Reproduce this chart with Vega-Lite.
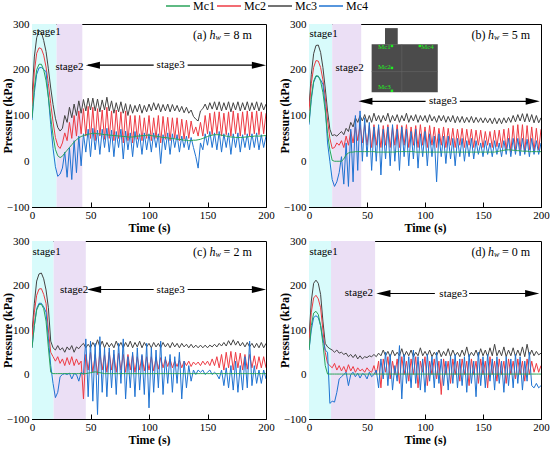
{
  "$schema": "https://vega.github.io/schema/vega-lite/v6.json",
  "padding": {"left": 0, "top": 0, "right": 0, "bottom": 0},
  "config": {
    "view": {"stroke": "black", "strokeWidth": 1},
    "font": "Liberation Serif, Times New Roman, serif",
    "axis": {
      "labelFont": "Liberation Serif, Times New Roman, serif", "labelFontSize": 11, "labelColor": "black",
      "titleFont": "Liberation Serif, Times New Roman, serif", "titleFontSize": 12, "titleFontWeight": "bold", "titleColor": "black",
      "domainColor": "black", "tickColor": "black", "grid": false, "labelFlush": false,
      "labelPadding": 8, "labelOverlap": false
    },
    "axisX": {"labelPadding": 7, "titlePadding": 2},
    "text": {"font": "Liberation Serif, Times New Roman, serif", "color": "black"}
  },
  "datasets": {
    "a": [
      {"t":0,"Mc1":95,"Mc2":120,"Mc3":140,"Mc4":90},
      {"t":2,"Mc1":160,"Mc2":195,"Mc3":228,"Mc4":150},
      {"t":4,"Mc1":200,"Mc2":236,"Mc3":270,"Mc4":190},
      {"t":6,"Mc1":212,"Mc2":248,"Mc3":285,"Mc4":204},
      {"t":8,"Mc1":212,"Mc2":246,"Mc3":282,"Mc4":205},
      {"t":10,"Mc1":200,"Mc2":232,"Mc3":264,"Mc4":200},
      {"t":12,"Mc1":176,"Mc2":206,"Mc3":240,"Mc4":196},
      {"t":14,"Mc1":140,"Mc2":170,"Mc3":202,"Mc4":140},
      {"t":16,"Mc1":96,"Mc2":126,"Mc3":160,"Mc4":80},
      {"t":18,"Mc1":56,"Mc2":86,"Mc3":124,"Mc4":28},
      {"t":20,"Mc1":26,"Mc2":52,"Mc3":94,"Mc4":-12},
      {"t":22,"Mc1":12,"Mc2":34,"Mc3":74,"Mc4":-33},
      {"t":24,"Mc1":8,"Mc2":28,"Mc3":66,"Mc4":-28},
      {"t":26,"Mc1":11,"Mc2":40,"Mc3":72,"Mc4":-15},
      {"t":28,"Mc1":18,"Mc2":62,"Mc3":100,"Mc4":20},
      {"t":30,"Mc1":24,"Mc2":45,"Mc3":85,"Mc4":-35},
      {"t":32,"Mc1":30,"Mc2":85,"Mc3":118,"Mc4":30},
      {"t":34,"Mc1":36,"Mc2":50,"Mc3":95,"Mc4":-40},
      {"t":36,"Mc1":42,"Mc2":100,"Mc3":125,"Mc4":45},
      {"t":38,"Mc1":47,"Mc2":55,"Mc3":100,"Mc4":-25},
      {"t":40,"Mc1":51,"Mc2":110,"Mc3":132,"Mc4":55},
      {"t":42,"Mc1":54,"Mc2":60,"Mc3":105,"Mc4":-10},
      {"t":44,"Mc1":56,"Mc2":115,"Mc3":135,"Mc4":60},
      {"t":46,"Mc1":58,"Mc2":55,"Mc3":110,"Mc4":20},
      {"t":48,"Mc1":59,"Mc2":120,"Mc3":138,"Mc4":70},
      {"t":50,"Mc1":60,"Mc2":50,"Mc3":112,"Mc4":10},
      {"t":52,"Mc1":61,"Mc2":118,"Mc3":138,"Mc4":72},
      {"t":54,"Mc1":61,"Mc2":45,"Mc3":110,"Mc4":25},
      {"t":56,"Mc1":60,"Mc2":115,"Mc3":136,"Mc4":68},
      {"t":58,"Mc1":60,"Mc2":55,"Mc3":108,"Mc4":15},
      {"t":60,"Mc1":59,"Mc2":112,"Mc3":134,"Mc4":70},
      {"t":62,"Mc1":58,"Mc2":48,"Mc3":112,"Mc4":30},
      {"t":64,"Mc1":58,"Mc2":118,"Mc3":140,"Mc4":72},
      {"t":66,"Mc1":57,"Mc2":50,"Mc3":110,"Mc4":20},
      {"t":68,"Mc1":57,"Mc2":110,"Mc3":132,"Mc4":68},
      {"t":70,"Mc1":56,"Mc2":45,"Mc3":105,"Mc4":10},
      {"t":72,"Mc1":56,"Mc2":112,"Mc3":128,"Mc4":65},
      {"t":74,"Mc1":55,"Mc2":50,"Mc3":108,"Mc4":30},
      {"t":76,"Mc1":55,"Mc2":108,"Mc3":130,"Mc4":70},
      {"t":78,"Mc1":54,"Mc2":40,"Mc3":105,"Mc4":5},
      {"t":80,"Mc1":54,"Mc2":110,"Mc3":126,"Mc4":66},
      {"t":82,"Mc1":53,"Mc2":45,"Mc3":100,"Mc4":25},
      {"t":84,"Mc1":53,"Mc2":100,"Mc3":124,"Mc4":62},
      {"t":86,"Mc1":53,"Mc2":40,"Mc3":105,"Mc4":10},
      {"t":88,"Mc1":54,"Mc2":100,"Mc3":122,"Mc4":65},
      {"t":90,"Mc1":55,"Mc2":48,"Mc3":108,"Mc4":30},
      {"t":92,"Mc1":55,"Mc2":100,"Mc3":125,"Mc4":60},
      {"t":94,"Mc1":56,"Mc2":45,"Mc3":105,"Mc4":15},
      {"t":96,"Mc1":56,"Mc2":95,"Mc3":122,"Mc4":62},
      {"t":98,"Mc1":57,"Mc2":50,"Mc3":108,"Mc4":25},
      {"t":100,"Mc1":57,"Mc2":100,"Mc3":125,"Mc4":60},
      {"t":102,"Mc1":56,"Mc2":45,"Mc3":110,"Mc4":20},
      {"t":104,"Mc1":55,"Mc2":95,"Mc3":128,"Mc4":62},
      {"t":106,"Mc1":55,"Mc2":50,"Mc3":112,"Mc4":30},
      {"t":108,"Mc1":54,"Mc2":100,"Mc3":126,"Mc4":60},
      {"t":110,"Mc1":53,"Mc2":40,"Mc3":108,"Mc4":-5},
      {"t":112,"Mc1":52,"Mc2":98,"Mc3":124,"Mc4":58},
      {"t":114,"Mc1":52,"Mc2":48,"Mc3":110,"Mc4":25},
      {"t":116,"Mc1":51,"Mc2":96,"Mc3":125,"Mc4":62},
      {"t":118,"Mc1":50,"Mc2":45,"Mc3":108,"Mc4":15},
      {"t":120,"Mc1":50,"Mc2":95,"Mc3":124,"Mc4":60},
      {"t":122,"Mc1":49,"Mc2":50,"Mc3":110,"Mc4":30},
      {"t":124,"Mc1":48,"Mc2":95,"Mc3":122,"Mc4":58},
      {"t":126,"Mc1":48,"Mc2":45,"Mc3":108,"Mc4":20},
      {"t":128,"Mc1":47,"Mc2":92,"Mc3":120,"Mc4":55},
      {"t":130,"Mc1":46,"Mc2":48,"Mc3":106,"Mc4":30},
      {"t":132,"Mc1":46,"Mc2":90,"Mc3":118,"Mc4":55},
      {"t":134,"Mc1":45,"Mc2":50,"Mc3":105,"Mc4":25},
      {"t":136,"Mc1":45,"Mc2":88,"Mc3":112,"Mc4":52},
      {"t":138,"Mc1":46,"Mc2":60,"Mc3":98,"Mc4":30},
      {"t":140,"Mc1":46,"Mc2":75,"Mc3":92,"Mc4":10},
      {"t":142,"Mc1":47,"Mc2":55,"Mc3":88,"Mc4":-15},
      {"t":144,"Mc1":48,"Mc2":85,"Mc3":110,"Mc4":40},
      {"t":146,"Mc1":50,"Mc2":55,"Mc3":115,"Mc4":25},
      {"t":148,"Mc1":52,"Mc2":100,"Mc3":125,"Mc4":60},
      {"t":150,"Mc1":54,"Mc2":60,"Mc3":112,"Mc4":35},
      {"t":152,"Mc1":56,"Mc2":105,"Mc3":128,"Mc4":65},
      {"t":154,"Mc1":57,"Mc2":58,"Mc3":114,"Mc4":30},
      {"t":156,"Mc1":58,"Mc2":108,"Mc3":130,"Mc4":62},
      {"t":158,"Mc1":58,"Mc2":60,"Mc3":112,"Mc4":25},
      {"t":160,"Mc1":58,"Mc2":108,"Mc3":130,"Mc4":65},
      {"t":162,"Mc1":57,"Mc2":55,"Mc3":110,"Mc4":20},
      {"t":164,"Mc1":56,"Mc2":105,"Mc3":128,"Mc4":60},
      {"t":166,"Mc1":55,"Mc2":58,"Mc3":112,"Mc4":30},
      {"t":168,"Mc1":54,"Mc2":108,"Mc3":130,"Mc4":62},
      {"t":170,"Mc1":53,"Mc2":55,"Mc3":108,"Mc4":15},
      {"t":172,"Mc1":53,"Mc2":110,"Mc3":128,"Mc4":60},
      {"t":174,"Mc1":52,"Mc2":60,"Mc3":112,"Mc4":30},
      {"t":176,"Mc1":52,"Mc2":105,"Mc3":130,"Mc4":62},
      {"t":178,"Mc1":52,"Mc2":55,"Mc3":110,"Mc4":20},
      {"t":180,"Mc1":52,"Mc2":108,"Mc3":128,"Mc4":58},
      {"t":182,"Mc1":53,"Mc2":58,"Mc3":112,"Mc4":30},
      {"t":184,"Mc1":53,"Mc2":110,"Mc3":130,"Mc4":60},
      {"t":186,"Mc1":54,"Mc2":55,"Mc3":110,"Mc4":25},
      {"t":188,"Mc1":54,"Mc2":108,"Mc3":128,"Mc4":60},
      {"t":190,"Mc1":55,"Mc2":60,"Mc3":112,"Mc4":30},
      {"t":192,"Mc1":55,"Mc2":110,"Mc3":130,"Mc4":62},
      {"t":194,"Mc1":55,"Mc2":58,"Mc3":110,"Mc4":25},
      {"t":196,"Mc1":55,"Mc2":108,"Mc3":128,"Mc4":58},
      {"t":198,"Mc1":56,"Mc2":60,"Mc3":112,"Mc4":30},
      {"t":200,"Mc1":56,"Mc2":105,"Mc3":125,"Mc4":55}
    ],
    "b": [
      {"t":0,"Mc1":85,"Mc2":110,"Mc3":120,"Mc4":80},
      {"t":2,"Mc1":140,"Mc2":170,"Mc3":190,"Mc4":135},
      {"t":4,"Mc1":175,"Mc2":205,"Mc3":235,"Mc4":172},
      {"t":6,"Mc1":187,"Mc2":220,"Mc3":253,"Mc4":185},
      {"t":8,"Mc1":186,"Mc2":219,"Mc3":254,"Mc4":186},
      {"t":10,"Mc1":175,"Mc2":205,"Mc3":238,"Mc4":178},
      {"t":12,"Mc1":150,"Mc2":178,"Mc3":205,"Mc4":168},
      {"t":14,"Mc1":110,"Mc2":140,"Mc3":160,"Mc4":120},
      {"t":16,"Mc1":60,"Mc2":90,"Mc3":110,"Mc4":40},
      {"t":18,"Mc1":25,"Mc2":50,"Mc3":70,"Mc4":0},
      {"t":20,"Mc1":2,"Mc2":28,"Mc3":56,"Mc4":-40},
      {"t":22,"Mc1":0,"Mc2":30,"Mc3":58,"Mc4":-55},
      {"t":24,"Mc1":0,"Mc2":40,"Mc3":55,"Mc4":-45},
      {"t":26,"Mc1":0,"Mc2":35,"Mc3":60,"Mc4":-25},
      {"t":28,"Mc1":0,"Mc2":45,"Mc3":65,"Mc4":10},
      {"t":30,"Mc1":5,"Mc2":30,"Mc3":58,"Mc4":-50},
      {"t":32,"Mc1":14,"Mc2":55,"Mc3":72,"Mc4":40},
      {"t":34,"Mc1":18,"Mc2":35,"Mc3":65,"Mc4":-55},
      {"t":36,"Mc1":20,"Mc2":65,"Mc3":85,"Mc4":70},
      {"t":38,"Mc1":20,"Mc2":40,"Mc3":75,"Mc4":-45},
      {"t":40,"Mc1":21,"Mc2":75,"Mc3":95,"Mc4":100},
      {"t":42,"Mc1":21,"Mc2":45,"Mc3":85,"Mc4":-20},
      {"t":44,"Mc1":21,"Mc2":80,"Mc3":100,"Mc4":110},
      {"t":46,"Mc1":21,"Mc2":40,"Mc3":88,"Mc4":0},
      {"t":48,"Mc1":21,"Mc2":80,"Mc3":102,"Mc4":95},
      {"t":50,"Mc1":21,"Mc2":35,"Mc3":85,"Mc4":10},
      {"t":52,"Mc1":21,"Mc2":78,"Mc3":100,"Mc4":85},
      {"t":54,"Mc1":21,"Mc2":30,"Mc3":85,"Mc4":-20},
      {"t":56,"Mc1":21,"Mc2":80,"Mc3":105,"Mc4":75},
      {"t":58,"Mc1":20,"Mc2":35,"Mc3":88,"Mc4":0},
      {"t":60,"Mc1":20,"Mc2":75,"Mc3":100,"Mc4":80},
      {"t":62,"Mc1":20,"Mc2":30,"Mc3":85,"Mc4":-30},
      {"t":64,"Mc1":20,"Mc2":78,"Mc3":100,"Mc4":70},
      {"t":66,"Mc1":20,"Mc2":35,"Mc3":88,"Mc4":5},
      {"t":68,"Mc1":20,"Mc2":80,"Mc3":105,"Mc4":75},
      {"t":70,"Mc1":20,"Mc2":30,"Mc3":85,"Mc4":-10},
      {"t":72,"Mc1":20,"Mc2":75,"Mc3":100,"Mc4":80},
      {"t":74,"Mc1":20,"Mc2":35,"Mc3":88,"Mc4":0},
      {"t":76,"Mc1":21,"Mc2":80,"Mc3":102,"Mc4":70},
      {"t":78,"Mc1":21,"Mc2":30,"Mc3":85,"Mc4":-20},
      {"t":80,"Mc1":21,"Mc2":78,"Mc3":100,"Mc4":75},
      {"t":82,"Mc1":21,"Mc2":35,"Mc3":88,"Mc4":10},
      {"t":84,"Mc1":21,"Mc2":80,"Mc3":105,"Mc4":70},
      {"t":86,"Mc1":21,"Mc2":30,"Mc3":85,"Mc4":-10},
      {"t":88,"Mc1":21,"Mc2":75,"Mc3":100,"Mc4":65},
      {"t":90,"Mc1":21,"Mc2":35,"Mc3":88,"Mc4":5},
      {"t":92,"Mc1":20,"Mc2":78,"Mc3":102,"Mc4":70},
      {"t":94,"Mc1":20,"Mc2":30,"Mc3":85,"Mc4":-15},
      {"t":96,"Mc1":20,"Mc2":80,"Mc3":100,"Mc4":60},
      {"t":98,"Mc1":20,"Mc2":35,"Mc3":88,"Mc4":10},
      {"t":100,"Mc1":20,"Mc2":75,"Mc3":100,"Mc4":65},
      {"t":102,"Mc1":20,"Mc2":30,"Mc3":85,"Mc4":-10},
      {"t":104,"Mc1":20,"Mc2":78,"Mc3":102,"Mc4":60},
      {"t":106,"Mc1":20,"Mc2":35,"Mc3":88,"Mc4":10},
      {"t":108,"Mc1":20,"Mc2":75,"Mc3":98,"Mc4":55},
      {"t":110,"Mc1":20,"Mc2":30,"Mc3":85,"Mc4":-45},
      {"t":112,"Mc1":20,"Mc2":72,"Mc3":100,"Mc4":60},
      {"t":114,"Mc1":20,"Mc2":35,"Mc3":88,"Mc4":10},
      {"t":116,"Mc1":20,"Mc2":75,"Mc3":100,"Mc4":55},
      {"t":118,"Mc1":20,"Mc2":30,"Mc3":85,"Mc4":-5},
      {"t":120,"Mc1":20,"Mc2":72,"Mc3":98,"Mc4":55},
      {"t":122,"Mc1":20,"Mc2":35,"Mc3":86,"Mc4":5},
      {"t":124,"Mc1":20,"Mc2":72,"Mc3":100,"Mc4":50},
      {"t":126,"Mc1":20,"Mc2":30,"Mc3":84,"Mc4":-10},
      {"t":128,"Mc1":20,"Mc2":70,"Mc3":98,"Mc4":50},
      {"t":130,"Mc1":20,"Mc2":35,"Mc3":85,"Mc4":10},
      {"t":132,"Mc1":20,"Mc2":72,"Mc3":98,"Mc4":50},
      {"t":134,"Mc1":20,"Mc2":30,"Mc3":84,"Mc4":0},
      {"t":136,"Mc1":20,"Mc2":70,"Mc3":96,"Mc4":45},
      {"t":138,"Mc1":20,"Mc2":35,"Mc3":85,"Mc4":10},
      {"t":140,"Mc1":20,"Mc2":70,"Mc3":98,"Mc4":50},
      {"t":142,"Mc1":20,"Mc2":30,"Mc3":84,"Mc4":5},
      {"t":144,"Mc1":20,"Mc2":68,"Mc3":96,"Mc4":45},
      {"t":146,"Mc1":20,"Mc2":35,"Mc3":85,"Mc4":15},
      {"t":148,"Mc1":20,"Mc2":68,"Mc3":95,"Mc4":40},
      {"t":150,"Mc1":20,"Mc2":30,"Mc3":84,"Mc4":10},
      {"t":152,"Mc1":20,"Mc2":65,"Mc3":95,"Mc4":45},
      {"t":154,"Mc1":20,"Mc2":35,"Mc3":84,"Mc4":15},
      {"t":156,"Mc1":20,"Mc2":65,"Mc3":94,"Mc4":40},
      {"t":158,"Mc1":20,"Mc2":30,"Mc3":82,"Mc4":10},
      {"t":160,"Mc1":20,"Mc2":68,"Mc3":95,"Mc4":45},
      {"t":162,"Mc1":21,"Mc2":32,"Mc3":82,"Mc4":15},
      {"t":164,"Mc1":22,"Mc2":68,"Mc3":94,"Mc4":40},
      {"t":166,"Mc1":23,"Mc2":30,"Mc3":82,"Mc4":10},
      {"t":168,"Mc1":24,"Mc2":70,"Mc3":95,"Mc4":45},
      {"t":170,"Mc1":25,"Mc2":25,"Mc3":84,"Mc4":15},
      {"t":172,"Mc1":25,"Mc2":72,"Mc3":96,"Mc4":50},
      {"t":174,"Mc1":25,"Mc2":20,"Mc3":85,"Mc4":10},
      {"t":176,"Mc1":24,"Mc2":78,"Mc3":100,"Mc4":50},
      {"t":178,"Mc1":24,"Mc2":22,"Mc3":86,"Mc4":15},
      {"t":180,"Mc1":23,"Mc2":80,"Mc3":102,"Mc4":50},
      {"t":182,"Mc1":23,"Mc2":25,"Mc3":88,"Mc4":12},
      {"t":184,"Mc1":22,"Mc2":80,"Mc3":104,"Mc4":50},
      {"t":186,"Mc1":22,"Mc2":20,"Mc3":86,"Mc4":15},
      {"t":188,"Mc1":22,"Mc2":78,"Mc3":104,"Mc4":48},
      {"t":190,"Mc1":21,"Mc2":25,"Mc3":86,"Mc4":10},
      {"t":192,"Mc1":21,"Mc2":75,"Mc3":102,"Mc4":50},
      {"t":194,"Mc1":21,"Mc2":22,"Mc3":84,"Mc4":15},
      {"t":196,"Mc1":21,"Mc2":72,"Mc3":100,"Mc4":45},
      {"t":198,"Mc1":21,"Mc2":25,"Mc3":84,"Mc4":15},
      {"t":200,"Mc1":21,"Mc2":70,"Mc3":95,"Mc4":40}
    ],
    "c": [
      {"t":0,"Mc1":60,"Mc2":80,"Mc3":95,"Mc4":60},
      {"t":2,"Mc1":110,"Mc2":140,"Mc3":160,"Mc4":110},
      {"t":4,"Mc1":145,"Mc2":178,"Mc3":210,"Mc4":148},
      {"t":6,"Mc1":157,"Mc2":192,"Mc3":226,"Mc4":160},
      {"t":8,"Mc1":158,"Mc2":193,"Mc3":228,"Mc4":160},
      {"t":10,"Mc1":148,"Mc2":180,"Mc3":215,"Mc4":152},
      {"t":12,"Mc1":120,"Mc2":160,"Mc3":190,"Mc4":140},
      {"t":14,"Mc1":60,"Mc2":100,"Mc3":150,"Mc4":80},
      {"t":16,"Mc1":5,"Mc2":50,"Mc3":75,"Mc4":20},
      {"t":18,"Mc1":2,"Mc2":40,"Mc3":60,"Mc4":-20},
      {"t":20,"Mc1":2,"Mc2":30,"Mc3":55,"Mc4":-52},
      {"t":22,"Mc1":2,"Mc2":40,"Mc3":65,"Mc4":-40},
      {"t":24,"Mc1":2,"Mc2":25,"Mc3":55,"Mc4":-5},
      {"t":26,"Mc1":2,"Mc2":35,"Mc3":60,"Mc4":0},
      {"t":28,"Mc1":2,"Mc2":20,"Mc3":50,"Mc4":2},
      {"t":30,"Mc1":2,"Mc2":38,"Mc3":62,"Mc4":0},
      {"t":32,"Mc1":2,"Mc2":22,"Mc3":55,"Mc4":3},
      {"t":34,"Mc1":2,"Mc2":40,"Mc3":65,"Mc4":-10},
      {"t":36,"Mc1":2,"Mc2":20,"Mc3":50,"Mc4":2},
      {"t":38,"Mc1":2,"Mc2":35,"Mc3":62,"Mc4":0},
      {"t":40,"Mc1":2,"Mc2":22,"Mc3":58,"Mc4":-15},
      {"t":42,"Mc1":2,"Mc2":30,"Mc3":65,"Mc4":5},
      {"t":44,"Mc1":2,"Mc2":-55,"Mc3":70,"Mc4":0},
      {"t":46,"Mc1":2,"Mc2":45,"Mc3":60,"Mc4":80},
      {"t":48,"Mc1":3,"Mc2":10,"Mc3":68,"Mc4":-50},
      {"t":50,"Mc1":4,"Mc2":50,"Mc3":60,"Mc4":75},
      {"t":52,"Mc1":5,"Mc2":5,"Mc3":72,"Mc4":-60},
      {"t":54,"Mc1":6,"Mc2":45,"Mc3":62,"Mc4":70},
      {"t":56,"Mc1":5,"Mc2":0,"Mc3":78,"Mc4":-90},
      {"t":58,"Mc1":4,"Mc2":50,"Mc3":62,"Mc4":85},
      {"t":60,"Mc1":3,"Mc2":10,"Mc3":75,"Mc4":-40},
      {"t":62,"Mc1":2,"Mc2":45,"Mc3":60,"Mc4":60},
      {"t":64,"Mc1":2,"Mc2":5,"Mc3":72,"Mc4":-50},
      {"t":66,"Mc1":2,"Mc2":50,"Mc3":62,"Mc4":60},
      {"t":68,"Mc1":2,"Mc2":10,"Mc3":70,"Mc4":-30},
      {"t":70,"Mc1":2,"Mc2":45,"Mc3":60,"Mc4":55},
      {"t":72,"Mc1":2,"Mc2":5,"Mc3":75,"Mc4":-45},
      {"t":74,"Mc1":2,"Mc2":48,"Mc3":62,"Mc4":70},
      {"t":76,"Mc1":2,"Mc2":10,"Mc3":72,"Mc4":-20},
      {"t":78,"Mc1":2,"Mc2":45,"Mc3":60,"Mc4":80},
      {"t":80,"Mc1":2,"Mc2":5,"Mc3":72,"Mc4":-55},
      {"t":82,"Mc1":2,"Mc2":45,"Mc3":62,"Mc4":40},
      {"t":84,"Mc1":2,"Mc2":10,"Mc3":75,"Mc4":-30},
      {"t":86,"Mc1":2,"Mc2":45,"Mc3":60,"Mc4":50},
      {"t":88,"Mc1":2,"Mc2":5,"Mc3":72,"Mc4":-50},
      {"t":90,"Mc1":2,"Mc2":40,"Mc3":62,"Mc4":60},
      {"t":92,"Mc1":2,"Mc2":10,"Mc3":75,"Mc4":-35},
      {"t":94,"Mc1":2,"Mc2":42,"Mc3":60,"Mc4":45},
      {"t":96,"Mc1":2,"Mc2":8,"Mc3":72,"Mc4":-45},
      {"t":98,"Mc1":2,"Mc2":40,"Mc3":62,"Mc4":70},
      {"t":100,"Mc1":2,"Mc2":10,"Mc3":70,"Mc4":-75},
      {"t":102,"Mc1":2,"Mc2":40,"Mc3":60,"Mc4":60},
      {"t":104,"Mc1":2,"Mc2":8,"Mc3":72,"Mc4":-40},
      {"t":106,"Mc1":2,"Mc2":38,"Mc3":62,"Mc4":55},
      {"t":108,"Mc1":2,"Mc2":12,"Mc3":70,"Mc4":-30},
      {"t":110,"Mc1":2,"Mc2":38,"Mc3":60,"Mc4":75},
      {"t":112,"Mc1":2,"Mc2":15,"Mc3":72,"Mc4":-45},
      {"t":114,"Mc1":2,"Mc2":35,"Mc3":62,"Mc4":40},
      {"t":116,"Mc1":2,"Mc2":18,"Mc3":70,"Mc4":-20},
      {"t":118,"Mc1":2,"Mc2":35,"Mc3":60,"Mc4":45},
      {"t":120,"Mc1":2,"Mc2":15,"Mc3":72,"Mc4":-40},
      {"t":122,"Mc1":2,"Mc2":30,"Mc3":62,"Mc4":40},
      {"t":124,"Mc1":2,"Mc2":18,"Mc3":70,"Mc4":-20},
      {"t":126,"Mc1":2,"Mc2":32,"Mc3":60,"Mc4":50},
      {"t":128,"Mc1":2,"Mc2":15,"Mc3":70,"Mc4":-55},
      {"t":130,"Mc1":2,"Mc2":30,"Mc3":62,"Mc4":30},
      {"t":132,"Mc1":2,"Mc2":20,"Mc3":68,"Mc4":-30},
      {"t":134,"Mc1":2,"Mc2":30,"Mc3":60,"Mc4":20},
      {"t":136,"Mc1":2,"Mc2":18,"Mc3":68,"Mc4":-15},
      {"t":138,"Mc1":2,"Mc2":28,"Mc3":60,"Mc4":10},
      {"t":140,"Mc1":2,"Mc2":22,"Mc3":66,"Mc4":0},
      {"t":142,"Mc1":2,"Mc2":28,"Mc3":60,"Mc4":10},
      {"t":144,"Mc1":2,"Mc2":20,"Mc3":66,"Mc4":5},
      {"t":146,"Mc1":2,"Mc2":30,"Mc3":60,"Mc4":10},
      {"t":148,"Mc1":2,"Mc2":22,"Mc3":66,"Mc4":0},
      {"t":150,"Mc1":2,"Mc2":30,"Mc3":60,"Mc4":5},
      {"t":152,"Mc1":2,"Mc2":20,"Mc3":66,"Mc4":10},
      {"t":154,"Mc1":2,"Mc2":35,"Mc3":62,"Mc4":0},
      {"t":156,"Mc1":2,"Mc2":20,"Mc3":68,"Mc4":5},
      {"t":158,"Mc1":2,"Mc2":40,"Mc3":62,"Mc4":0},
      {"t":160,"Mc1":2,"Mc2":15,"Mc3":70,"Mc4":-10},
      {"t":162,"Mc1":2,"Mc2":45,"Mc3":64,"Mc4":10},
      {"t":164,"Mc1":2,"Mc2":10,"Mc3":72,"Mc4":-25},
      {"t":166,"Mc1":2,"Mc2":50,"Mc3":64,"Mc4":15},
      {"t":168,"Mc1":2,"Mc2":15,"Mc3":76,"Mc4":-30},
      {"t":170,"Mc1":2,"Mc2":52,"Mc3":66,"Mc4":20},
      {"t":172,"Mc1":2,"Mc2":10,"Mc3":78,"Mc4":-35},
      {"t":174,"Mc1":2,"Mc2":50,"Mc3":66,"Mc4":30},
      {"t":176,"Mc1":2,"Mc2":15,"Mc3":75,"Mc4":-40},
      {"t":178,"Mc1":2,"Mc2":48,"Mc3":64,"Mc4":20},
      {"t":180,"Mc1":2,"Mc2":10,"Mc3":72,"Mc4":-35},
      {"t":182,"Mc1":2,"Mc2":45,"Mc3":62,"Mc4":40},
      {"t":184,"Mc1":2,"Mc2":12,"Mc3":72,"Mc4":-30},
      {"t":186,"Mc1":2,"Mc2":45,"Mc3":62,"Mc4":75},
      {"t":188,"Mc1":2,"Mc2":15,"Mc3":70,"Mc4":-25},
      {"t":190,"Mc1":2,"Mc2":42,"Mc3":60,"Mc4":20},
      {"t":192,"Mc1":2,"Mc2":12,"Mc3":70,"Mc4":-20},
      {"t":194,"Mc1":2,"Mc2":40,"Mc3":60,"Mc4":10},
      {"t":196,"Mc1":2,"Mc2":15,"Mc3":72,"Mc4":-20},
      {"t":198,"Mc1":2,"Mc2":40,"Mc3":60,"Mc4":10},
      {"t":200,"Mc1":2,"Mc2":15,"Mc3":70,"Mc4":-10}
    ],
    "d": [
      {"t":0,"Mc1":55,"Mc2":70,"Mc3":85,"Mc4":55},
      {"t":2,"Mc1":110,"Mc2":140,"Mc3":165,"Mc4":100},
      {"t":4,"Mc1":138,"Mc2":172,"Mc3":205,"Mc4":128},
      {"t":6,"Mc1":142,"Mc2":178,"Mc3":212,"Mc4":132},
      {"t":8,"Mc1":135,"Mc2":170,"Mc3":205,"Mc4":128},
      {"t":10,"Mc1":110,"Mc2":150,"Mc3":180,"Mc4":110},
      {"t":12,"Mc1":70,"Mc2":100,"Mc3":120,"Mc4":80},
      {"t":14,"Mc1":20,"Mc2":50,"Mc3":70,"Mc4":55},
      {"t":16,"Mc1":1,"Mc2":25,"Mc3":62,"Mc4":50},
      {"t":18,"Mc1":1,"Mc2":20,"Mc3":58,"Mc4":-65},
      {"t":20,"Mc1":1,"Mc2":15,"Mc3":55,"Mc4":-60},
      {"t":22,"Mc1":1,"Mc2":25,"Mc3":50,"Mc4":-62},
      {"t":24,"Mc1":1,"Mc2":10,"Mc3":55,"Mc4":-40},
      {"t":26,"Mc1":1,"Mc2":20,"Mc3":48,"Mc4":-10},
      {"t":28,"Mc1":1,"Mc2":8,"Mc3":50,"Mc4":-5},
      {"t":30,"Mc1":1,"Mc2":18,"Mc3":45,"Mc4":0},
      {"t":32,"Mc1":1,"Mc2":5,"Mc3":48,"Mc4":5},
      {"t":34,"Mc1":1,"Mc2":22,"Mc3":40,"Mc4":-25},
      {"t":36,"Mc1":1,"Mc2":8,"Mc3":45,"Mc4":0},
      {"t":38,"Mc1":1,"Mc2":18,"Mc3":38,"Mc4":5},
      {"t":40,"Mc1":1,"Mc2":5,"Mc3":45,"Mc4":-5},
      {"t":42,"Mc1":1,"Mc2":15,"Mc3":35,"Mc4":3},
      {"t":44,"Mc1":1,"Mc2":8,"Mc3":42,"Mc4":-8},
      {"t":46,"Mc1":1,"Mc2":12,"Mc3":35,"Mc4":2},
      {"t":48,"Mc1":1,"Mc2":5,"Mc3":40,"Mc4":0},
      {"t":50,"Mc1":1,"Mc2":15,"Mc3":38,"Mc4":-10},
      {"t":52,"Mc1":1,"Mc2":8,"Mc3":42,"Mc4":5},
      {"t":54,"Mc1":1,"Mc2":5,"Mc3":40,"Mc4":-5},
      {"t":56,"Mc1":1,"Mc2":20,"Mc3":45,"Mc4":0},
      {"t":58,"Mc1":1,"Mc2":0,"Mc3":40,"Mc4":10},
      {"t":60,"Mc1":1,"Mc2":30,"Mc3":48,"Mc4":-30},
      {"t":62,"Mc1":1,"Mc2":-30,"Mc3":42,"Mc4":35},
      {"t":64,"Mc1":1,"Mc2":35,"Mc3":55,"Mc4":-10},
      {"t":66,"Mc1":1,"Mc2":5,"Mc3":42,"Mc4":50},
      {"t":68,"Mc1":1,"Mc2":40,"Mc3":52,"Mc4":-25},
      {"t":70,"Mc1":1,"Mc2":-10,"Mc3":40,"Mc4":45},
      {"t":72,"Mc1":1,"Mc2":30,"Mc3":55,"Mc4":-35},
      {"t":74,"Mc1":1,"Mc2":0,"Mc3":42,"Mc4":20},
      {"t":76,"Mc1":1,"Mc2":35,"Mc3":50,"Mc4":-15},
      {"t":78,"Mc1":1,"Mc2":-20,"Mc3":42,"Mc4":65},
      {"t":80,"Mc1":1,"Mc2":40,"Mc3":58,"Mc4":-55},
      {"t":82,"Mc1":1,"Mc2":0,"Mc3":40,"Mc4":45},
      {"t":84,"Mc1":1,"Mc2":30,"Mc3":52,"Mc4":-20},
      {"t":86,"Mc1":1,"Mc2":-15,"Mc3":42,"Mc4":40},
      {"t":88,"Mc1":1,"Mc2":35,"Mc3":55,"Mc4":-30},
      {"t":90,"Mc1":1,"Mc2":0,"Mc3":40,"Mc4":55},
      {"t":92,"Mc1":1,"Mc2":40,"Mc3":50,"Mc4":-20},
      {"t":94,"Mc1":1,"Mc2":-30,"Mc3":42,"Mc4":40},
      {"t":96,"Mc1":1,"Mc2":30,"Mc3":60,"Mc4":-35},
      {"t":98,"Mc1":1,"Mc2":5,"Mc3":42,"Mc4":35},
      {"t":100,"Mc1":1,"Mc2":40,"Mc3":52,"Mc4":-40},
      {"t":102,"Mc1":1,"Mc2":-25,"Mc3":42,"Mc4":45},
      {"t":104,"Mc1":1,"Mc2":30,"Mc3":55,"Mc4":-15},
      {"t":106,"Mc1":1,"Mc2":0,"Mc3":40,"Mc4":40},
      {"t":108,"Mc1":1,"Mc2":35,"Mc3":50,"Mc4":-30},
      {"t":110,"Mc1":1,"Mc2":-10,"Mc3":42,"Mc4":50},
      {"t":112,"Mc1":1,"Mc2":30,"Mc3":55,"Mc4":-20},
      {"t":114,"Mc1":1,"Mc2":-45,"Mc3":40,"Mc4":35},
      {"t":116,"Mc1":1,"Mc2":35,"Mc3":52,"Mc4":-25},
      {"t":118,"Mc1":1,"Mc2":0,"Mc3":42,"Mc4":30},
      {"t":120,"Mc1":1,"Mc2":30,"Mc3":58,"Mc4":-35},
      {"t":122,"Mc1":1,"Mc2":-20,"Mc3":40,"Mc4":40},
      {"t":124,"Mc1":1,"Mc2":35,"Mc3":55,"Mc4":-20},
      {"t":126,"Mc1":1,"Mc2":0,"Mc3":42,"Mc4":45},
      {"t":128,"Mc1":1,"Mc2":30,"Mc3":50,"Mc4":-30},
      {"t":130,"Mc1":1,"Mc2":-15,"Mc3":40,"Mc4":35},
      {"t":132,"Mc1":1,"Mc2":35,"Mc3":55,"Mc4":-25},
      {"t":134,"Mc1":1,"Mc2":0,"Mc3":42,"Mc4":40},
      {"t":136,"Mc1":1,"Mc2":30,"Mc3":62,"Mc4":-40},
      {"t":138,"Mc1":1,"Mc2":-25,"Mc3":40,"Mc4":45},
      {"t":140,"Mc1":1,"Mc2":35,"Mc3":50,"Mc4":-20},
      {"t":142,"Mc1":1,"Mc2":0,"Mc3":42,"Mc4":30},
      {"t":144,"Mc1":1,"Mc2":30,"Mc3":55,"Mc4":-50},
      {"t":146,"Mc1":1,"Mc2":-20,"Mc3":40,"Mc4":50},
      {"t":148,"Mc1":1,"Mc2":35,"Mc3":58,"Mc4":-25},
      {"t":150,"Mc1":1,"Mc2":0,"Mc3":42,"Mc4":40},
      {"t":152,"Mc1":1,"Mc2":30,"Mc3":55,"Mc4":-30},
      {"t":154,"Mc1":1,"Mc2":-30,"Mc3":40,"Mc4":45},
      {"t":156,"Mc1":1,"Mc2":40,"Mc3":60,"Mc4":-15},
      {"t":158,"Mc1":1,"Mc2":0,"Mc3":42,"Mc4":35},
      {"t":160,"Mc1":1,"Mc2":30,"Mc3":68,"Mc4":-35},
      {"t":162,"Mc1":1,"Mc2":-15,"Mc3":42,"Mc4":40},
      {"t":164,"Mc1":1,"Mc2":35,"Mc3":55,"Mc4":-20},
      {"t":166,"Mc1":1,"Mc2":0,"Mc3":42,"Mc4":30},
      {"t":168,"Mc1":1,"Mc2":30,"Mc3":62,"Mc4":-40},
      {"t":170,"Mc1":1,"Mc2":-20,"Mc3":40,"Mc4":40},
      {"t":172,"Mc1":1,"Mc2":35,"Mc3":55,"Mc4":-25},
      {"t":174,"Mc1":1,"Mc2":0,"Mc3":42,"Mc4":35},
      {"t":176,"Mc1":1,"Mc2":30,"Mc3":60,"Mc4":-30},
      {"t":178,"Mc1":1,"Mc2":-10,"Mc3":40,"Mc4":45},
      {"t":180,"Mc1":1,"Mc2":35,"Mc3":55,"Mc4":-20},
      {"t":182,"Mc1":1,"Mc2":0,"Mc3":42,"Mc4":40},
      {"t":184,"Mc1":1,"Mc2":30,"Mc3":62,"Mc4":-35},
      {"t":186,"Mc1":1,"Mc2":-15,"Mc3":40,"Mc4":30},
      {"t":188,"Mc1":1,"Mc2":35,"Mc3":68,"Mc4":-15},
      {"t":190,"Mc1":1,"Mc2":0,"Mc3":42,"Mc4":50},
      {"t":192,"Mc1":1,"Mc2":30,"Mc3":55,"Mc4":-25},
      {"t":194,"Mc1":1,"Mc2":5,"Mc3":42,"Mc4":-30},
      {"t":196,"Mc1":1,"Mc2":25,"Mc3":52,"Mc4":-20},
      {"t":198,"Mc1":1,"Mc2":5,"Mc3":44,"Mc4":-30},
      {"t":200,"Mc1":1,"Mc2":20,"Mc3":48,"Mc4":-25}
    ]
  },
  "spacing": 0,
  "vconcat": [
    {
      "spacing": 2,
      "hconcat": [
        {
          "width": 234, "height": 183,
          "layer": [
            {"data": {"values": [{}]}, "mark": {"type": "rect", "color": "#d8fbfb"},
             "encoding": {"x": {"datum": 0}, "x2": {"datum": 21}, "y": {"datum": -100}, "y2": {"datum": 300}}},
            {"data": {"values": [{}]}, "mark": {"type": "rect", "color": "#ebdff5"},
             "encoding": {"x": {"datum": 21}, "x2": {"datum": 43}, "y": {"datum": -100}, "y2": {"datum": 300}}},
            {"data": {"name": "a"},
             "transform": [{"fold": ["Mc3", "Mc2", "Mc4", "Mc1"], "as": ["s", "v"]}],
             "mark": {"type": "line", "strokeWidth": 1, "clip": true},
             "encoding": {
               "x": {"field": "t", "type": "quantitative", "scale": {"domain": [0, 200], "nice": false},
                     "axis": {"title": "Time (s)", "values": [0, 25, 50, 75, 100, 125, 150, 175, 200], "labelExpr": "datum.value % 50 == 0 ? datum.label : ''", "tickSize": {"condition": {"test": "datum.value % 50 != 0", "value": -3}, "value": -5}}},
               "y": {"field": "v", "type": "quantitative", "scale": {"domain": [-100, 300], "nice": false},
                     "axis": {"title": "Pressure (kPa)", "values": [-100, -75, -50, -25, 0, 25, 50, 75, 100, 125, 150, 175, 200, 225, 250, 275, 300], "labelExpr": "datum.value % 50 == 0 ? datum.label : ''", "tickSize": {"condition": {"test": "datum.value % 50 != 0", "value": -3}, "value": -5}, "titlePadding": -8}},
               "color": {"field": "s", "type": "nominal",
                         "scale": {"domain": ["Mc1", "Mc2", "Mc3", "Mc4"], "range": ["#2aa35a", "#ee3b44", "#444444", "#1f73d2"]},
                         "legend": {"orient": "none", "legendX": 133, "legendY": -24, "direction": "horizontal", "title": null, "symbolType": "stroke", "symbolSize": 576, "symbolStrokeWidth": 1.5, "clipHeight": 12, "labelFont": "Liberation Serif, Times New Roman, serif", "labelFontSize": 12, "labelColor": "black", "columnPadding": 1, "labelOffset": 2}}
             }},
            {"data": {"values": [{}]}, "mark": {"type": "text", "text": "stage1", "align": "left", "fontSize": 11},
             "encoding": {"x": {"datum": 0.5}, "y": {"datum": 282}}},
            {"data": {"values": [{}]}, "mark": {"type": "text", "text": "stage2", "fontSize": 11},
             "encoding": {"x": {"datum": 32}, "y": {"datum": 207}}},
            {"data": {"values": [{}]}, "mark": {"type": "rule", "strokeWidth": 1.2, "color": "black"},
             "encoding": {"x": {"datum": 48}, "x2": {"datum": 104}, "y": {"datum": 210}}},
            {"data": {"values": [{}]}, "mark": {"type": "rule", "strokeWidth": 1.2, "color": "black"},
             "encoding": {"x": {"datum": 133}, "x2": {"datum": 196}, "y": {"datum": 210}}},
            {"data": {"values": [{}]}, "mark": {"type": "point", "filled": true, "color": "black", "opacity": 1, "size": 200, "shape": "M0,0L2,-0.5L2,0.5Z"},
             "encoding": {"x": {"datum": 46}, "y": {"datum": 210}}},
            {"data": {"values": [{}]}, "mark": {"type": "point", "filled": true, "color": "black", "opacity": 1, "size": 200, "shape": "M0,0L-2,-0.5L-2,0.5Z"},
             "encoding": {"x": {"datum": 200}, "y": {"datum": 210}}},
            {"data": {"values": [{}]}, "mark": {"type": "text", "text": "stage3", "fontSize": 11},
             "encoding": {"x": {"datum": 118.5}, "y": {"datum": 210}}},
            {"data": {"values": [{}]}, "mark": {"type": "text", "text": "(a)", "align": "left", "fontSize": 12},
             "encoding": {"x": {"datum": 137.7}, "y": {"datum": 277}}},
            {"data": {"values": [{}]}, "mark": {"type": "text", "text": "h", "align": "left", "fontSize": 12, "fontStyle": "italic", "dx": 16.5},
             "encoding": {"x": {"datum": 137.7}, "y": {"datum": 277}}},
            {"data": {"values": [{}]}, "mark": {"type": "text", "text": "w", "align": "left", "fontSize": 8, "fontStyle": "italic", "dx": 22.5, "dy": 3.5},
             "encoding": {"x": {"datum": 137.7}, "y": {"datum": 277}}},
            {"data": {"values": [{}]}, "mark": {"type": "text", "text": "= 8 m", "align": "left", "fontSize": 12, "dx": 30.5},
             "encoding": {"x": {"datum": 137.7}, "y": {"datum": 277}}}
          ]
        },
        {
          "width": 232, "height": 183,
          "layer": [
            {"data": {"values": [{}]}, "mark": {"type": "rect", "color": "#d8fbfb"},
             "encoding": {"x": {"datum": 0}, "x2": {"datum": 20}, "y": {"datum": -100}, "y2": {"datum": 300}}},
            {"data": {"values": [{}]}, "mark": {"type": "rect", "color": "#ebdff5"},
             "encoding": {"x": {"datum": 20}, "x2": {"datum": 45}, "y": {"datum": -100}, "y2": {"datum": 300}}},
            {"data": {"name": "b"},
             "transform": [{"fold": ["Mc3", "Mc2", "Mc4", "Mc1"], "as": ["s", "v"]}],
             "mark": {"type": "line", "strokeWidth": 1, "clip": true},
             "encoding": {
               "x": {"field": "t", "type": "quantitative", "scale": {"domain": [0, 200], "nice": false},
                     "axis": {"title": "Time (s)", "values": [0, 25, 50, 75, 100, 125, 150, 175, 200], "labelExpr": "datum.value % 50 == 0 ? datum.label : ''", "tickSize": {"condition": {"test": "datum.value % 50 != 0", "value": -3}, "value": -5}}},
               "y": {"field": "v", "type": "quantitative", "scale": {"domain": [-100, 300], "nice": false},
                     "axis": {"title": "Pressure (kPa)", "values": [-100, -75, -50, -25, 0, 25, 50, 75, 100, 125, 150, 175, 200, 225, 250, 275, 300], "labelExpr": "datum.value % 50 == 0 ? datum.label : ''", "tickSize": {"condition": {"test": "datum.value % 50 != 0", "value": -3}, "value": -5}, "titlePadding": -8}},
               "color": {"field": "s", "type": "nominal"}
             }},
            {"data": {"values": [{}]}, "mark": {"type": "rect", "color": "#4b4b4b"},
             "encoding": {"x": {"datum": 54}, "x2": {"datum": 111}, "y": {"datum": 151}, "y2": {"datum": 256}}},
            {"data": {"values": [{}]}, "mark": {"type": "rect", "color": "#4b4b4b"},
             "encoding": {"x": {"datum": 65.5}, "x2": {"datum": 76.5}, "y": {"datum": 255}, "y2": {"datum": 291}}},
            {"data": {"values": [{}]}, "mark": {"type": "rule", "color": "#666666", "strokeWidth": 0.6},
             "encoding": {"x": {"datum": 54}, "x2": {"datum": 111}, "y": {"datum": 196}}},
            {"data": {"values": [{}]}, "mark": {"type": "rule", "color": "#666666", "strokeWidth": 0.6},
             "encoding": {"x": {"datum": 80}, "y": {"datum": 151}, "y2": {"datum": 256}}},
            {"data": {"values": [{}]}, "mark": {"type": "point", "shape": "square", "filled": true, "color": "#22ee22", "opacity": 1, "size": 6},
             "encoding": {"x": {"datum": 71.5}, "y": {"datum": 252}}},
            {"data": {"values": [{}]}, "mark": {"type": "point", "shape": "square", "filled": true, "color": "#22ee22", "opacity": 1, "size": 6},
             "encoding": {"x": {"datum": 71.5}, "y": {"datum": 204}}},
            {"data": {"values": [{}]}, "mark": {"type": "point", "shape": "square", "filled": true, "color": "#22ee22", "opacity": 1, "size": 6},
             "encoding": {"x": {"datum": 71.5}, "y": {"datum": 154}}},
            {"data": {"values": [{}]}, "mark": {"type": "point", "shape": "square", "filled": true, "color": "#22ee22", "opacity": 1, "size": 6},
             "encoding": {"x": {"datum": 95.5}, "y": {"datum": 252}}},
            {"data": {"values": [{}]}, "mark": {"type": "text", "text": "Mc1", "align": "left", "fontSize": 7, "color": "#22ee22"},
             "encoding": {"x": {"datum": 59.5}, "y": {"datum": 249}}},
            {"data": {"values": [{}]}, "mark": {"type": "text", "text": "Mc2", "align": "left", "fontSize": 7, "color": "#22ee22"},
             "encoding": {"x": {"datum": 59.5}, "y": {"datum": 206}}},
            {"data": {"values": [{}]}, "mark": {"type": "text", "text": "Mc3", "align": "left", "fontSize": 7, "color": "#22ee22"},
             "encoding": {"x": {"datum": 59.5}, "y": {"datum": 162}}},
            {"data": {"values": [{}]}, "mark": {"type": "text", "text": "Mc4", "align": "left", "fontSize": 7, "color": "#22ee22"},
             "encoding": {"x": {"datum": 96.5}, "y": {"datum": 250}}},
            {"data": {"values": [{}]}, "mark": {"type": "text", "text": "stage1", "align": "left", "fontSize": 11},
             "encoding": {"x": {"datum": 0.5}, "y": {"datum": 278}}},
            {"data": {"values": [{}]}, "mark": {"type": "text", "text": "stage2", "fontSize": 11},
             "encoding": {"x": {"datum": 35}, "y": {"datum": 204}}},
            {"data": {"values": [{}]}, "mark": {"type": "rule", "strokeWidth": 1.2, "color": "black"},
             "encoding": {"x": {"datum": 45}, "x2": {"datum": 100.5}, "y": {"datum": 131}}},
            {"data": {"values": [{}]}, "mark": {"type": "rule", "strokeWidth": 1.2, "color": "black"},
             "encoding": {"x": {"datum": 130}, "x2": {"datum": 195}, "y": {"datum": 131}}},
            {"data": {"values": [{}]}, "mark": {"type": "point", "filled": true, "color": "black", "opacity": 1, "size": 200, "shape": "M0,0L2,-0.5L2,0.5Z"},
             "encoding": {"x": {"datum": 42.5}, "y": {"datum": 131}}},
            {"data": {"values": [{}]}, "mark": {"type": "point", "filled": true, "color": "black", "opacity": 1, "size": 200, "shape": "M0,0L-2,-0.5L-2,0.5Z"},
             "encoding": {"x": {"datum": 199}, "y": {"datum": 131}}},
            {"data": {"values": [{}]}, "mark": {"type": "text", "text": "stage3", "fontSize": 11},
             "encoding": {"x": {"datum": 115.5}, "y": {"datum": 131}}},
            {"data": {"values": [{}]}, "mark": {"type": "text", "text": "(b)", "align": "left", "fontSize": 12},
             "encoding": {"x": {"datum": 140}, "y": {"datum": 277}}},
            {"data": {"values": [{}]}, "mark": {"type": "text", "text": "h", "align": "left", "fontSize": 12, "fontStyle": "italic", "dx": 16.5},
             "encoding": {"x": {"datum": 140}, "y": {"datum": 277}}},
            {"data": {"values": [{}]}, "mark": {"type": "text", "text": "w", "align": "left", "fontSize": 8, "fontStyle": "italic", "dx": 22.5, "dy": 3.5},
             "encoding": {"x": {"datum": 140}, "y": {"datum": 277}}},
            {"data": {"values": [{}]}, "mark": {"type": "text", "text": "= 5 m", "align": "left", "fontSize": 12, "dx": 30.5},
             "encoding": {"x": {"datum": 140}, "y": {"datum": 277}}}
          ]
        }
      ]
    },
    {
      "spacing": 2,
      "hconcat": [
        {
          "width": 234, "height": 178,
          "layer": [
            {"data": {"values": [{}]}, "mark": {"type": "rect", "color": "#d8fbfb"},
             "encoding": {"x": {"datum": 0}, "x2": {"datum": 18.5}, "y": {"datum": -100}, "y2": {"datum": 300}}},
            {"data": {"values": [{}]}, "mark": {"type": "rect", "color": "#ebdff5"},
             "encoding": {"x": {"datum": 18.5}, "x2": {"datum": 46}, "y": {"datum": -100}, "y2": {"datum": 300}}},
            {"data": {"name": "c"},
             "transform": [{"fold": ["Mc3", "Mc2", "Mc4", "Mc1"], "as": ["s", "v"]}],
             "mark": {"type": "line", "strokeWidth": 1, "clip": true},
             "encoding": {
               "x": {"field": "t", "type": "quantitative", "scale": {"domain": [0, 200], "nice": false},
                     "axis": {"title": "Time (s)", "values": [0, 25, 50, 75, 100, 125, 150, 175, 200], "labelExpr": "datum.value % 50 == 0 ? datum.label : ''", "tickSize": {"condition": {"test": "datum.value % 50 != 0", "value": -3}, "value": -5}}},
               "y": {"field": "v", "type": "quantitative", "scale": {"domain": [-100, 300], "nice": false},
                     "axis": {"title": "Pressure (kPa)", "values": [-100, -75, -50, -25, 0, 25, 50, 75, 100, 125, 150, 175, 200, 225, 250, 275, 300], "labelExpr": "datum.value % 50 == 0 ? datum.label : ''", "tickSize": {"condition": {"test": "datum.value % 50 != 0", "value": -3}, "value": -5}, "titlePadding": -8}},
               "color": {"field": "s", "type": "nominal"}
             }},
            {"data": {"values": [{}]}, "mark": {"type": "text", "text": "stage1", "align": "left", "fontSize": 11},
             "encoding": {"x": {"datum": 0.5}, "y": {"datum": 276}}},
            {"data": {"values": [{}]}, "mark": {"type": "text", "text": "stage2", "fontSize": 11},
             "encoding": {"x": {"datum": 36}, "y": {"datum": 190}}},
            {"data": {"values": [{}]}, "mark": {"type": "rule", "strokeWidth": 1.2, "color": "black"},
             "encoding": {"x": {"datum": 49}, "x2": {"datum": 104}, "y": {"datum": 191}}},
            {"data": {"values": [{}]}, "mark": {"type": "rule", "strokeWidth": 1.2, "color": "black"},
             "encoding": {"x": {"datum": 133}, "x2": {"datum": 196}, "y": {"datum": 191}}},
            {"data": {"values": [{}]}, "mark": {"type": "point", "filled": true, "color": "black", "opacity": 1, "size": 200, "shape": "M0,0L2,-0.5L2,0.5Z"},
             "encoding": {"x": {"datum": 47}, "y": {"datum": 191}}},
            {"data": {"values": [{}]}, "mark": {"type": "point", "filled": true, "color": "black", "opacity": 1, "size": 200, "shape": "M0,0L-2,-0.5L-2,0.5Z"},
             "encoding": {"x": {"datum": 200}, "y": {"datum": 191}}},
            {"data": {"values": [{}]}, "mark": {"type": "text", "text": "stage3", "fontSize": 11},
             "encoding": {"x": {"datum": 118.5}, "y": {"datum": 191}}},
            {"data": {"values": [{}]}, "mark": {"type": "text", "text": "(c)", "align": "left", "fontSize": 12},
             "encoding": {"x": {"datum": 137.7}, "y": {"datum": 276}}},
            {"data": {"values": [{}]}, "mark": {"type": "text", "text": "h", "align": "left", "fontSize": 12, "fontStyle": "italic", "dx": 16.5},
             "encoding": {"x": {"datum": 137.7}, "y": {"datum": 276}}},
            {"data": {"values": [{}]}, "mark": {"type": "text", "text": "w", "align": "left", "fontSize": 8, "fontStyle": "italic", "dx": 22.5, "dy": 3.5},
             "encoding": {"x": {"datum": 137.7}, "y": {"datum": 276}}},
            {"data": {"values": [{}]}, "mark": {"type": "text", "text": "= 2 m", "align": "left", "fontSize": 12, "dx": 30.5},
             "encoding": {"x": {"datum": 137.7}, "y": {"datum": 276}}}
          ]
        },
        {
          "width": 232, "height": 178,
          "layer": [
            {"data": {"values": [{}]}, "mark": {"type": "rect", "color": "#d8fbfb"},
             "encoding": {"x": {"datum": 0}, "x2": {"datum": 19}, "y": {"datum": -100}, "y2": {"datum": 300}}},
            {"data": {"values": [{}]}, "mark": {"type": "rect", "color": "#ebdff5"},
             "encoding": {"x": {"datum": 19}, "x2": {"datum": 57}, "y": {"datum": -100}, "y2": {"datum": 300}}},
            {"data": {"name": "d"},
             "transform": [{"fold": ["Mc3", "Mc2", "Mc4", "Mc1"], "as": ["s", "v"]}],
             "mark": {"type": "line", "strokeWidth": 1, "clip": true},
             "encoding": {
               "x": {"field": "t", "type": "quantitative", "scale": {"domain": [0, 200], "nice": false},
                     "axis": {"title": "Time (s)", "values": [0, 25, 50, 75, 100, 125, 150, 175, 200], "labelExpr": "datum.value % 50 == 0 ? datum.label : ''", "tickSize": {"condition": {"test": "datum.value % 50 != 0", "value": -3}, "value": -5}}},
               "y": {"field": "v", "type": "quantitative", "scale": {"domain": [-100, 300], "nice": false},
                     "axis": {"title": "Pressure (kPa)", "values": [-100, -75, -50, -25, 0, 25, 50, 75, 100, 125, 150, 175, 200, 225, 250, 275, 300], "labelExpr": "datum.value % 50 == 0 ? datum.label : ''", "tickSize": {"condition": {"test": "datum.value % 50 != 0", "value": -3}, "value": -5}, "titlePadding": -8}},
               "color": {"field": "s", "type": "nominal"}
             }},
            {"data": {"values": [{}]}, "mark": {"type": "text", "text": "stage1", "align": "left", "fontSize": 11},
             "encoding": {"x": {"datum": 0.5}, "y": {"datum": 276}}},
            {"data": {"values": [{}]}, "mark": {"type": "text", "text": "stage2", "fontSize": 11},
             "encoding": {"x": {"datum": 43}, "y": {"datum": 184}}},
            {"data": {"values": [{}]}, "mark": {"type": "rule", "strokeWidth": 1.2, "color": "black"},
             "encoding": {"x": {"datum": 60}, "x2": {"datum": 108.5}, "y": {"datum": 182}}},
            {"data": {"values": [{}]}, "mark": {"type": "rule", "strokeWidth": 1.2, "color": "black"},
             "encoding": {"x": {"datum": 138}, "x2": {"datum": 195}, "y": {"datum": 182}}},
            {"data": {"values": [{}]}, "mark": {"type": "point", "filled": true, "color": "black", "opacity": 1, "size": 200, "shape": "M0,0L2,-0.5L2,0.5Z"},
             "encoding": {"x": {"datum": 58}, "y": {"datum": 182}}},
            {"data": {"values": [{}]}, "mark": {"type": "point", "filled": true, "color": "black", "opacity": 1, "size": 200, "shape": "M0,0L-2,-0.5L-2,0.5Z"},
             "encoding": {"x": {"datum": 198.5}, "y": {"datum": 182}}},
            {"data": {"values": [{}]}, "mark": {"type": "text", "text": "stage3", "fontSize": 11},
             "encoding": {"x": {"datum": 124.5}, "y": {"datum": 182}}},
            {"data": {"values": [{}]}, "mark": {"type": "text", "text": "(d)", "align": "left", "fontSize": 12},
             "encoding": {"x": {"datum": 140}, "y": {"datum": 276}}},
            {"data": {"values": [{}]}, "mark": {"type": "text", "text": "h", "align": "left", "fontSize": 12, "fontStyle": "italic", "dx": 16.5},
             "encoding": {"x": {"datum": 140}, "y": {"datum": 276}}},
            {"data": {"values": [{}]}, "mark": {"type": "text", "text": "w", "align": "left", "fontSize": 8, "fontStyle": "italic", "dx": 22.5, "dy": 3.5},
             "encoding": {"x": {"datum": 140}, "y": {"datum": 276}}},
            {"data": {"values": [{}]}, "mark": {"type": "text", "text": "= 0 m", "align": "left", "fontSize": 12, "dx": 30.5},
             "encoding": {"x": {"datum": 140}, "y": {"datum": 276}}}
          ]
        }
      ]
    }
  ]
}
